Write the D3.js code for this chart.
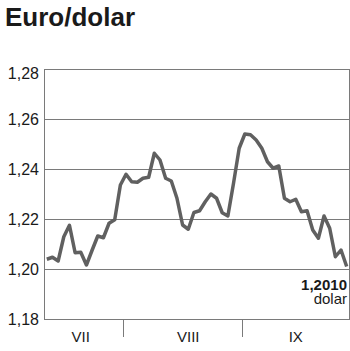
<!DOCTYPE html>
<meta charset="utf-8">
<script src="https://cdn.jsdelivr.net/npm/d3@7"></script>
<style>
body { margin: 0; background: #fff; }
text { font-family: "Liberation Sans", Arial, sans-serif; fill: #1a1a1a; }
.grid { stroke: #7a7a7a; stroke-width: 1; shape-rendering: crispEdges; }
.rate { fill: none; stroke: #606060; stroke-width: 3.5; stroke-linejoin: round; }
</style>
<body>
<script>

// euro/dollar rate, one value per trading day
var rates = [1.2039, 1.2047, 1.2032, 1.2129, 1.2175, 1.2065, 1.2067, 1.2016, 1.2075, 1.2132,
             1.2125, 1.2183, 1.2197, 1.2336, 1.2379, 1.2349, 1.2347, 1.2363, 1.2367, 1.2463,
             1.2436, 1.2363, 1.2352, 1.2283, 1.2176, 1.2159, 1.2226, 1.2233, 1.2269, 1.2300,
             1.2283, 1.2225, 1.2212, 1.2343, 1.2483, 1.2540, 1.2537, 1.2516, 1.2483, 1.2429,
             1.2403, 1.2412, 1.2283, 1.2269, 1.2279, 1.2229, 1.2233, 1.2156, 1.2123, 1.2212,
             1.2163, 1.2049, 1.2076, 1.2010];

var yTicks = [1.18, 1.20, 1.22, 1.24, 1.26, 1.28];
var months = ["VII", "VIII", "IX"];
var monthLabelAt = [6, 25, 44];      // day index where the month name sits
var monthBreaks = [13.5, 34.5];      // between last day of a month and first of the next
var lastLabel = "1,2010";
var lastUnit = "dolar";

var width = 350, height = 351;
var pLeft = 44, pRight = 349.5, pTop = 69, pBottom = 319;

var svg = d3.select("body").append("svg")
    .attr("width", width)
    .attr("height", height);

var fmt = function(v) { return d3.format(".2f")(v).replace(".", ","); };

var x = d3.scaleLinear()
    .domain([-0.5, rates.length - 0.5])
    .range([pLeft, pRight]);

var y = d3.scaleLinear()
    .domain([1.18, 1.28])
    .range([pBottom, pTop]);

svg.append("text")
    .attr("x", 5)
    .attr("y", 26)
    .style("font-size", "26px")
    .style("font-weight", "bold")
    .text("Euro/dolar");

// horizontal grid
svg.selectAll(".hline")
    .data(yTicks)
    .enter().append("line")
    .attr("class", "grid")
    .attr("x1", pLeft)
    .attr("x2", pRight)
    .attr("y1", function(d) { return Math.round(y(d)) + 0.5; })
    .attr("y2", function(d) { return Math.round(y(d)) + 0.5; });

svg.append("line").attr("class", "grid")
    .attr("x1", pLeft + 0.5).attr("x2", pLeft + 0.5)
    .attr("y1", y(1.28)).attr("y2", y(1.18) + 1);
svg.append("line").attr("class", "grid")
    .attr("x1", pRight).attr("x2", pRight)
    .attr("y1", y(1.28)).attr("y2", y(1.18) + 1);

svg.selectAll(".ylab")
    .data(yTicks)
    .enter().append("text")
    .attr("x", 39)
    .attr("y", function(d) { return y(d); })
    .attr("dy", function(d) { return d == 1.28 ? "0.6em" : "0.36em"; })
    .attr("text-anchor", "end")
    .style("font-size", "16px")
    .text(fmt);

// month dividers
svg.selectAll(".mtick")
    .data(monthBreaks)
    .enter().append("line")
    .attr("class", "grid")
    .attr("x1", function(d) { return Math.round(x(d)) + 0.5; })
    .attr("x2", function(d) { return Math.round(x(d)) + 0.5; })
    .attr("y1", pBottom)
    .attr("y2", pBottom + 18);

svg.selectAll(".mlab")
    .data(months)
    .enter().append("text")
    .attr("x", function(d, i) { return x(monthLabelAt[i]); })
    .attr("y", 341.5)
    .attr("text-anchor", "middle")
    .style("font-size", "15px")
    .text(function(d) { return d; });

var line = d3.line()
    .x(function(d, i) { return x(i); })
    .y(function(d) { return y(d); });

svg.append("path")
    .datum(rates)
    .attr("class", "rate")
    .attr("d", line);

svg.append("text")
    .attr("x", 347)
    .attr("y", 289.5)
    .attr("text-anchor", "end")
    .style("font-size", "15px")
    .style("font-weight", "bold")
    .text(lastLabel);

svg.append("text")
    .attr("x", 347)
    .attr("y", 303.5)
    .attr("text-anchor", "end")
    .style("font-size", "15px")
    .text(lastUnit);

</script>
</body>
